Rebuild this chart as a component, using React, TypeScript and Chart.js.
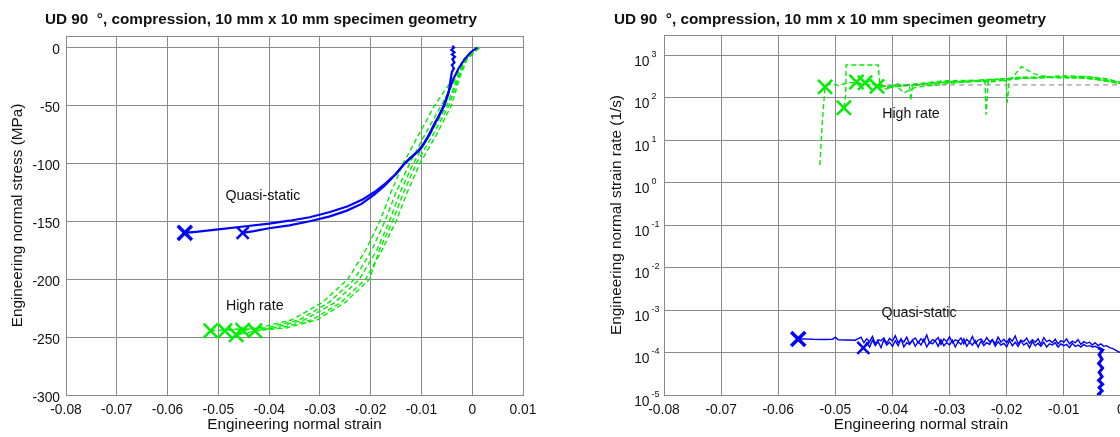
import React, { useEffect, useRef } from "react";
import { Chart, registerables } from "chart.js";
Chart.register(...registerables);

// ---------- text ----------
const TITLE = "UD 90  \u00B0, compression, 10 mm x 10 mm specimen geometry";
const X_LABEL = "Engineering normal strain";
const Y_LABEL_STRESS = "Engineering normal stress (MPa)";
const Y_LABEL_RATE = "Engineering normal strain rate (1/s)";
const LABEL_QS = "Quasi-static";
const LABEL_HR = "High rate";

// ---------- ticks ----------
const strainTicks = [-0.08, -0.07, -0.06, -0.05, -0.04, -0.03, -0.02, -0.01, 0, 0.01];
const strainTickLabels = ["-0.08", "-0.07", "-0.06", "-0.05", "-0.04", "-0.03", "-0.02", "-0.01", "0", "0.01"];
const stressTicks = [-300, -250, -200, -150, -100, -50, 0];
const stressTickLabels = ["-300", "-250", "-200", "-150", "-100", "-50", "0"];
const rateTicks = [1e-5, 1e-4, 1e-3, 1e-2, 1e-1, 1, 10, 100, 1000];
const rateTickExponents = ["-5", "-4", "-3", "-2", "-1", "0", "1", "2", "3"];

// ---------- left: stress-strain, quasi-static ----------
const qsAStrain = [-0.0039, -0.0036, -0.0041, -0.0035, -0.004, -0.0034, -0.0039, -0.0035, -0.004, -0.0036, -0.004, -0.0042, -0.0044, -0.0047, -0.0055, -0.0064, -0.0074, -0.0084, -0.0095, -0.0105, -0.0118, -0.0133, -0.015, -0.017, -0.019, -0.0215, -0.0245, -0.028, -0.032, -0.036, -0.04, -0.045, -0.05, -0.054, -0.0566];
const qsAStress = [1.5, 0, -2, -4, -6, -8, -10, -13, -15, -18, -21, -26, -32, -40, -50, -58, -66, -75, -83, -89, -94, -100, -109, -117, -124, -131, -137, -142, -146.5, -149.5, -152, -154.5, -157, -159, -160];
const qsBStrain = [0.001, -0.0003, -0.0015, -0.0027, -0.0038, -0.0048, -0.0056, -0.0066, -0.0076, -0.0086, -0.0097, -0.0108, -0.0121, -0.0135, -0.0152, -0.0172, -0.0193, -0.0218, -0.0248, -0.0282, -0.032, -0.036, -0.04, -0.043, -0.0452];
const qsBStress = [0, -4, -10, -18, -28, -40, -50, -59, -67, -76, -84, -90, -95, -101, -110, -119, -127, -135, -141, -146, -150, -153.5, -156, -158.5, -160];
const qsEndStrain = [-0.0566, -0.0452];
const qsEndStress = [-160, -160];

// ---------- left: stress-strain, high rate ----------
const hrStressLevels = [0, -10, -25, -50, -75, -100, -125, -150, -175, -200, -220, -235, -242];
const hr1Strain = [0.0015, -0.0012, -0.0035, -0.0074, -0.0105, -0.0136, -0.016, -0.0182, -0.021, -0.0245, -0.0295, -0.0355, -0.042, -0.0515];
const hr2Strain = [0.0013, -0.0014, -0.003, -0.0061, -0.0093, -0.0123, -0.015, -0.0172, -0.0198, -0.0232, -0.0282, -0.034, -0.0405, -0.0487];
const hr3Strain = [0.001, -0.0016, -0.0028, -0.005, -0.0083, -0.0116, -0.0142, -0.0163, -0.0188, -0.0222, -0.027, -0.033, -0.0392, -0.0465];
const hr4Strain = [0.0014, -0.001, -0.0024, -0.0041, -0.007, -0.0103, -0.0128, -0.015, -0.0178, -0.021, -0.0258, -0.0315, -0.0378, -0.0452];
const hr5Strain = [0.0012, -0.0012, -0.0026, -0.0046, -0.0077, -0.011, -0.0135, -0.0157, -0.0183, -0.0202, -0.025, -0.0305, -0.0365, -0.0428];
const hrEndStrain = [-0.0515, -0.0487, -0.0465, -0.0452, -0.0428];
const hrEndStress = [-244.5, -244.5, -248, -244, -244.5];

// ---------- right: strain rate, quasi-static ----------
const qsRateAStrain = [
  -0.0565, -0.0555, -0.054, -0.052, -0.0505, -0.05, -0.0495, -0.048, -0.0465,
  -0.0455, -0.045, -0.0445, -0.044, -0.0435, -0.043, -0.0425, -0.042, -0.0415, -0.041,
  -0.0405, -0.04, -0.0395, -0.039, -0.0385, -0.038, -0.0375, -0.037, -0.0365, -0.036,
  -0.0355, -0.035, -0.0345, -0.034, -0.0335, -0.033, -0.0325, -0.032, -0.0315, -0.031,
  -0.0305, -0.03, -0.0295, -0.029, -0.0285, -0.028, -0.0275, -0.027, -0.0265, -0.026,
  -0.0255, -0.025, -0.0245, -0.024, -0.0235, -0.023, -0.0225, -0.022, -0.0215, -0.021,
  -0.0205, -0.02, -0.0195, -0.019, -0.0185, -0.018, -0.0175, -0.017, -0.0165, -0.016,
  -0.0155, -0.015, -0.0145, -0.014, -0.0135, -0.013, -0.0125, -0.012, -0.0115, -0.011,
  -0.0105, -0.01, -0.0095, -0.009, -0.0085, -0.008, -0.0075, -0.007, -0.0065, -0.006,
  -0.0055, -0.005, -0.0045, -0.004, -0.0035, -0.003, -0.0025, -0.002, -0.0015, -0.001,
  -0.0005, 0, 0.0005, 0.001,
];
const qsRateA = [
  2.08e-4, 2.1e-4, 2.05e-4, 2.02e-4, 2.04e-4, 2.3e-4, 2.0e-4, 1.98e-4, 1.95e-4,
  2.3e-4, 1.7e-4, 2.1e-4, 1.8e-4, 2.4e-4, 1.6e-4, 2.0e-4, 1.9e-4, 2.2e-4, 1.65e-4,
  2.15e-4, 1.85e-4, 2.5e-4, 1.7e-4, 2.05e-4, 1.75e-4, 2.3e-4, 1.6e-4, 1.95e-4, 2.2e-4,
  1.7e-4, 2.1e-4, 1.8e-4, 2.6e-4, 1.65e-4, 2.0e-4, 1.9e-4, 2.25e-4, 1.55e-4, 2.1e-4,
  1.8e-4, 2.35e-4, 1.7e-4, 2.0e-4, 1.85e-4, 2.2e-4, 1.6e-4, 2.05e-4, 1.75e-4, 2.4e-4,
  1.65e-4, 1.95e-4, 2.1e-4, 1.7e-4, 2.25e-4, 1.8e-4, 2.0e-4, 1.6e-4, 2.3e-4, 1.75e-4,
  2.05e-4, 1.7e-4, 2.15e-4, 1.85e-4, 2.45e-4, 1.6e-4, 1.95e-4, 1.8e-4, 2.2e-4, 1.65e-4,
  2.0e-4, 1.75e-4, 2.1e-4, 1.55e-4, 2.25e-4, 1.8e-4, 1.95e-4, 1.7e-4, 2.05e-4, 1.6e-4,
  1.9e-4, 1.75e-4, 2.1e-4, 1.6e-4, 1.85e-4, 1.7e-4, 2.0e-4, 1.55e-4, 1.8e-4, 1.65e-4,
  1.75e-4, 1.5e-4, 1.7e-4, 1.45e-4, 1.6e-4, 1.4e-4, 1.45e-4, 1.3e-4, 1.25e-4, 1.15e-4,
  1.05e-4, 1.0e-4, 9.2e-5, 8.5e-5,
];
const qsRateBStrain = [
  -0.0451,
  -0.0445, -0.044, -0.0435, -0.043, -0.0425, -0.042, -0.0415, -0.041, -0.0405, -0.04,
  -0.0395, -0.039, -0.0385, -0.038, -0.0375, -0.037, -0.0365, -0.036, -0.0355, -0.035,
  -0.0345, -0.034, -0.0335, -0.033, -0.0325, -0.032, -0.0315, -0.031, -0.0305, -0.03,
  -0.0295, -0.029, -0.0285, -0.028, -0.0275, -0.027, -0.0265, -0.026, -0.0255, -0.025,
  -0.0245, -0.024, -0.0235, -0.023, -0.0225, -0.022, -0.0215, -0.021, -0.0205, -0.02,
  -0.0195, -0.019, -0.0185, -0.018, -0.0175, -0.017, -0.0165, -0.016, -0.0155, -0.015,
  -0.0145, -0.014, -0.0135, -0.013, -0.0125, -0.012, -0.0115, -0.011, -0.0105, -0.01,
  -0.0095, -0.009, -0.0085, -0.008, -0.0075, -0.007, -0.0065, -0.006, -0.0055, -0.005,
  -0.0045, -0.004,
];
const qsRateB = [
  1.28e-4,
  1.7e-4, 1.35e-4, 1.95e-4, 1.45e-4, 1.8e-4, 1.3e-4, 2.0e-4, 1.5e-4, 1.75e-4, 1.4e-4,
  1.9e-4, 1.45e-4, 2.1e-4, 1.35e-4, 1.7e-4, 1.55e-4, 1.95e-4, 1.4e-4, 1.8e-4, 1.5e-4,
  2.05e-4, 1.35e-4, 1.75e-4, 1.6e-4, 1.9e-4, 1.4e-4, 2.0e-4, 1.45e-4, 1.7e-4, 1.5e-4,
  1.95e-4, 1.35e-4, 1.8e-4, 1.55e-4, 2.1e-4, 1.4e-4, 1.75e-4, 1.5e-4, 1.9e-4, 1.35e-4,
  1.85e-4, 1.45e-4, 1.7e-4, 1.55e-4, 2.0e-4, 1.4e-4, 1.8e-4, 1.5e-4, 1.65e-4, 1.35e-4,
  1.9e-4, 1.45e-4, 1.75e-4, 1.4e-4, 1.85e-4, 1.5e-4, 1.7e-4, 1.3e-4, 1.8e-4, 1.45e-4,
  1.65e-4, 1.4e-4, 1.75e-4, 1.35e-4, 1.6e-4, 1.5e-4, 1.7e-4, 1.35e-4, 1.6e-4, 1.45e-4,
  1.55e-4, 1.3e-4, 1.65e-4, 1.4e-4, 1.5e-4, 1.35e-4, 1.55e-4, 1.4e-4, 1.45e-4, 1.35e-4,
  1.4e-4, 1.3e-4,
];
const qsPlungeStrain = [-0.004, -0.0032, -0.0038, -0.0033, -0.0039, -0.0032, -0.0038, -0.0033, -0.0039, -0.0032, -0.0038, -0.0033, -0.0039, -0.0032, -0.0038, -0.0034];
const qsPlungeRate = [1.3e-4, 1.15e-4, 9e-5, 7e-5, 5.5e-5, 4.3e-5, 3.4e-5, 2.7e-5, 2.2e-5, 1.8e-5, 1.5e-5, 1.25e-5, 1.05e-5, 8.5e-6, 6.5e-6, 4e-6];
const qsRateEndStrain = [-0.0565, -0.0451];
const qsRateEnd = [2.08e-4, 1.28e-4];

// ---------- right: strain rate, high rate ----------
const hrRate1Strain = [-0.0527, -0.0523, -0.0518, -0.0508, -0.0495, -0.0475, -0.0455, -0.043, -0.04, -0.037, -0.034, -0.031, -0.028, -0.025, -0.022, -0.019, -0.016, -0.013, -0.01, -0.007, -0.004, -0.001, 0.002];
const hrRate1 = [2.6, 25, 180, 215, 195, 230, 210, 200, 185, 205, 225, 250, 255, 245, 270, 290, 285, 300, 290, 300, 265, 225, 185];
const hrRate2Strain = [-0.0485, -0.0482, -0.0481, -0.0452, -0.0425, -0.0422, -0.0405, -0.038, -0.035, -0.032, -0.029, -0.026, -0.0238, -0.0236, -0.0232, -0.02, -0.017, -0.014, -0.011, -0.008, -0.005, -0.002, 0.002];
const hrRate2 = [58, 110, 590, 590, 590, 200, 175, 190, 215, 235, 240, 260, 250, 40, 260, 280, 310, 295, 320, 290, 280, 240, 190];
const hrRate3Strain = [-0.0463, -0.0455, -0.0445, -0.043, -0.041, -0.039, -0.037, -0.0368, -0.0365, -0.034, -0.031, -0.028, -0.025, -0.022, -0.0201, -0.0199, -0.0195, -0.019, -0.0174, -0.0155, -0.014, -0.012, -0.009, -0.006, -0.003, 0.001];
const hrRate3 = [235, 215, 240, 200, 180, 210, 195, 85, 190, 215, 230, 235, 260, 275, 250, 76, 270, 300, 540, 380, 330, 310, 300, 320, 270, 215];
const hrRate4Strain = [-0.0448, -0.044, -0.0425, -0.041, -0.039, -0.036, -0.033, -0.03, -0.027, -0.024, -0.021, -0.018, -0.015, -0.012, -0.009, -0.006, -0.003, 0.001];
const hrRate4 = [225, 250, 195, 170, 185, 200, 210, 240, 230, 255, 265, 280, 300, 315, 330, 310, 290, 210];
const hrRate5Strain = [-0.0427, -0.041, -0.0395, -0.038, -0.036, -0.034, -0.032, -0.029, -0.026, -0.023, -0.02, -0.017, -0.014, -0.011, -0.008, -0.005, -0.002, 0.001];
const hrRate5 = [185, 160, 200, 130, 175, 190, 200, 225, 245, 235, 260, 290, 305, 310, 300, 285, 250, 200];
const hrRateEndStrain = [-0.0518, -0.0485, -0.0463, -0.0448, -0.0427];
const hrRateEnd = [180, 58, 235, 225, 185];
const refRateStrain = [-0.0425, 0.01];
const refRate = [200, 200];

// ---------- style ----------
const FONT = "'Liberation Sans', Arial, Helvetica, sans-serif";
const GRID = "#8a8a8a";
const TEXT = "#111111";
const BLUE = "#0000ff";
const GREEN = "#00ee00";
const TICK_SIZE = 13.8;
const LABEL_SIZE = 15.3;

const pts = (xs: number[], ys: number[]) => xs.map((x, i) => ({ x, y: ys[i] }));

function lineSet(data: any[], color: string, width: number, dash: number[] = []) {
  return {
    data,
    showLine: true,
    borderColor: color,
    backgroundColor: color,
    borderWidth: width,
    borderDash: dash,
    pointRadius: 0,
    pointHoverRadius: 0,
    tension: 0,
  };
}
function markerSet(data: any[], color: string, radius: number[], widths: number[]) {
  return {
    data,
    showLine: false,
    borderColor: color,
    backgroundColor: color,
    pointStyle: "crossRot",
    pointRadius: radius,
    pointBorderWidth: widths,
    pointHoverRadius: radius,
  };
}

function labelFor(value: number, ticks: number[], labels: string[]) {
  let best = 0;
  for (let i = 1; i < ticks.length; i++) {
    if (Math.abs(ticks[i] - value) < Math.abs(ticks[best] - value)) best = i;
  }
  return labels[best];
}

function textPlugin(opts: {
  id: string;
  titleX: number;
  yLabel: string;
  yLabelX: number;
  qs: [number, number];
  hr: [number, number];
  rateLabels?: boolean;
}) {
  return {
    id: opts.id,
    beforeDatasetsDraw(chart: any) {
      const { ctx, chartArea: a } = chart;
      ctx.save();
      ctx.strokeStyle = GRID;
      ctx.lineWidth = 1;
      ctx.strokeRect(Math.round(a.left) + 0.5, Math.round(a.top) + 0.5, Math.round(a.right - a.left), Math.round(a.bottom - a.top));
      ctx.restore();
    },
    afterDraw(chart: any) {
      const { ctx, chartArea: a, scales } = chart;
      ctx.save();
      ctx.fillStyle = TEXT;
      ctx.font = `bold ${LABEL_SIZE}px ${FONT}`;
      ctx.textAlign = "left";
      ctx.textBaseline = "alphabetic";
      ctx.fillText(TITLE, opts.titleX, 24);
      ctx.font = `${LABEL_SIZE}px ${FONT}`;
      ctx.textAlign = "center";
      ctx.fillText(X_LABEL, (a.left + a.right) / 2, 429);
      ctx.save();
      ctx.translate(opts.yLabelX, (a.top + a.bottom) / 2);
      ctx.rotate(-Math.PI / 2);
      ctx.textBaseline = "middle";
      ctx.fillText(opts.yLabel, 0, 0);
      ctx.restore();
      ctx.font = `14.2px ${FONT}`;
      ctx.textAlign = "left";
      ctx.textBaseline = "alphabetic";
      ctx.fillText(LABEL_QS, scales.x.getPixelForValue(opts.qs[0]), scales.y.getPixelForValue(opts.qs[1]));
      ctx.fillText(LABEL_HR, scales.x.getPixelForValue(opts.hr[0]), scales.y.getPixelForValue(opts.hr[1]));
      if (opts.rateLabels) {
        rateTicks.forEach((v, i) => {
          const py = scales.y.getPixelForValue(v);
          ctx.font = `${TICK_SIZE}px ${FONT}`;
          ctx.textAlign = "right";
          ctx.fillText("10", a.left - 14.5, py + 10.7);
          ctx.font = `9px ${FONT}`;
          ctx.textAlign = "left";
          ctx.fillText(rateTickExponents[i], a.left - 12.5, py + 1.5);
        });
      }
      ctx.restore();
    },
  };
}

function xScale(height: number) {
  return {
    type: "linear",
    min: -0.08,
    max: 0.01,
    afterBuildTicks: (s: any) => {
      s.ticks = strainTicks.map((v) => ({ value: v }));
    },
    afterFit: (s: any) => {
      s.height = height;
    },
    grid: { color: GRID, lineWidth: 1, drawTicks: false },
    border: { display: false },
    ticks: {
      callback: (v: number) => labelFor(v, strainTicks, strainTickLabels),
      color: TEXT,
      font: { family: FONT, size: TICK_SIZE },
      padding: 7,
      maxRotation: 0,
      autoSkip: false,
    },
  };
}

function leftConfig(): any {
  const datasets = [
    markerSet(pts(qsEndStrain, qsEndStress), BLUE, [10, 8.5], [3.5, 2.5]),
    markerSet(pts(hrEndStrain, hrEndStress), GREEN, [10, 10, 10, 10, 10], [2.5, 2.5, 2.5, 2.5, 2.5]),
    lineSet(pts(qsAStrain, qsAStress), BLUE, 2.2),
    lineSet(pts(qsBStrain, qsBStress), BLUE, 2.2),
    lineSet(pts(hr1Strain, [...hrStressLevels, hrEndStress[0]]), GREEN, 1.4, [5, 3]),
    lineSet(pts(hr2Strain, [...hrStressLevels, hrEndStress[1]]), GREEN, 1.4, [5, 3]),
    lineSet(pts(hr3Strain, [...hrStressLevels, hrEndStress[2]]), GREEN, 1.4, [5, 3]),
    lineSet(pts(hr4Strain, [...hrStressLevels, hrEndStress[3]]), GREEN, 1.4, [5, 3]),
    lineSet(pts(hr5Strain, [...hrStressLevels, hrEndStress[4]]), GREEN, 1.4, [5, 3]),
  ];
  return {
    type: "scatter",
    data: { datasets },
    options: {
      responsive: false,
      animation: false,
      events: [],
      layout: { padding: { left: 0, top: 36, right: 37, bottom: 0 } },
      plugins: { legend: { display: false }, tooltip: { enabled: false }, title: { display: false } },
      scales: {
        x: xScale(42),
        y: {
          type: "linear",
          min: -300,
          max: 10,
          afterBuildTicks: (s: any) => {
            s.ticks = stressTicks.map((v) => ({ value: v }));
          },
          afterFit: (s: any) => {
            s.width = 66;
          },
          grid: { color: GRID, lineWidth: 1, drawTicks: false },
          border: { display: false },
          ticks: {
            callback: (v: number) => labelFor(v, stressTicks, stressTickLabels),
            color: TEXT,
            font: { family: FONT, size: TICK_SIZE },
            padding: 6,
            labelOffset: 3,
          },
        },
      },
    },
    plugins: [
      textPlugin({ id: "leftText", titleX: 45, yLabel: Y_LABEL_STRESS, yLabelX: 18, qs: [-0.0486, -131.7], hr: [-0.0485, -226.7] }),
    ],
  };
}

function rightConfig(): any {
  const datasets = [
    markerSet(pts(qsRateEndStrain, qsRateEnd), BLUE, [10, 8.5], [3.5, 2.5]),
    markerSet(pts(hrRateEndStrain, hrRateEnd), GREEN, [10, 10, 10, 10, 10], [2.5, 2.5, 2.5, 2.5, 2.5]),
    lineSet(pts(refRateStrain, refRate), "#808080", 1, [5, 4]),
    lineSet(pts(qsRateAStrain, qsRateA), BLUE, 1.4),
    lineSet(pts(qsRateBStrain, qsRateB), BLUE, 1.4),
    lineSet(pts(qsPlungeStrain, qsPlungeRate), BLUE, 3),
    lineSet(pts(hrRate1Strain, hrRate1), GREEN, 1.4, [5, 3]),
    lineSet(pts(hrRate2Strain, hrRate2), GREEN, 1.4, [5, 3]),
    lineSet(pts(hrRate3Strain, hrRate3), GREEN, 1.4, [5, 3]),
    lineSet(pts(hrRate4Strain, hrRate4), GREEN, 1.4, [5, 3]),
    lineSet(pts(hrRate5Strain, hrRate5), GREEN, 1.4, [5, 3]),
  ];
  return {
    type: "scatter",
    data: { datasets },
    options: {
      responsive: false,
      animation: false,
      events: [],
      layout: { padding: { left: 0, top: 35, right: 82, bottom: 0 } },
      plugins: { legend: { display: false }, tooltip: { enabled: false }, title: { display: false } },
      scales: {
        x: xScale(42),
        y: {
          type: "logarithmic",
          min: 1e-5,
          max: 3000,
          afterBuildTicks: (s: any) => {
            s.ticks = rateTicks.map((v) => ({ value: v }));
          },
          afterFit: (s: any) => {
            s.width = 104;
          },
          grid: { color: GRID, lineWidth: 1, drawTicks: false },
          border: { display: false },
          ticks: { display: false },
        },
      },
    },
    plugins: [
      textPlugin({ id: "rightText", titleX: 54, yLabel: Y_LABEL_RATE, yLabelX: 57, qs: [-0.0419, 7e-4], hr: [-0.0418, 33.5], rateLabels: true }),
    ],
  };
}

export default function App() {
  const leftRef = useRef<HTMLCanvasElement>(null);
  const rightRef = useRef<HTMLCanvasElement>(null);
  useEffect(() => {
    const c1 = new Chart(leftRef.current as HTMLCanvasElement, leftConfig());
    const c2 = new Chart(rightRef.current as HTMLCanvasElement, rightConfig());
    return () => {
      c1.destroy();
      c2.destroy();
    };
  }, []);
  return (
    <div style={{ position: "absolute", left: 0, top: 0, width: 1120, height: 437, overflow: "hidden", background: "#fff" }}>
      <canvas ref={leftRef} width={560} height={437} style={{ position: "absolute", left: 0, top: 0 }} />
      <canvas ref={rightRef} width={700} height={437} style={{ position: "absolute", left: 560, top: 0 }} />
    </div>
  );
}
